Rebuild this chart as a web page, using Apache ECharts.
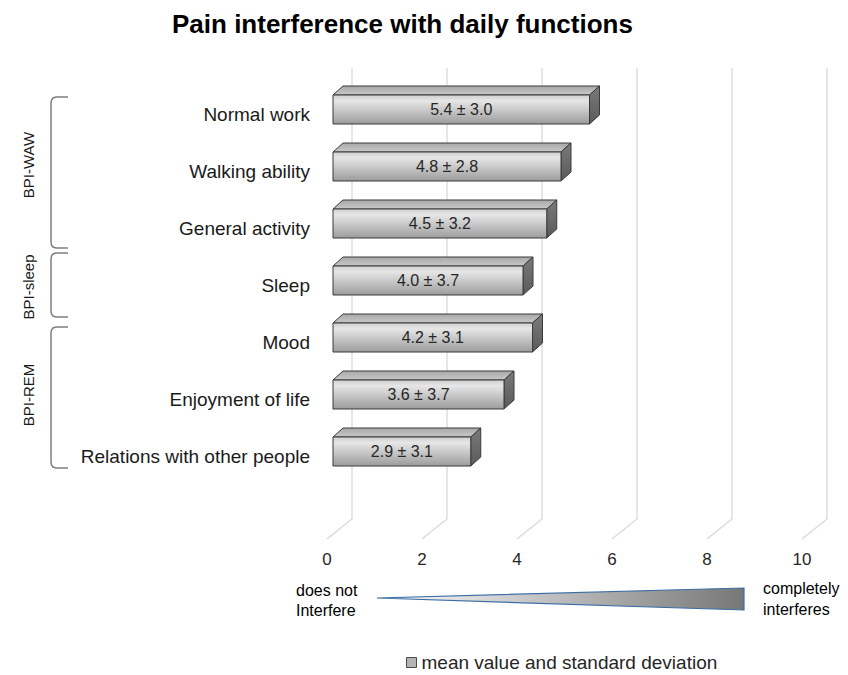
<!DOCTYPE html>
<html>
<head>
<meta charset="utf-8">
<script src="https://cdn.jsdelivr.net/npm/echarts@6/dist/echarts.min.js"></script>
<style>
    html, body { margin: 0; padding: 0; background: #fff; }
    #chart01 { width: 848px; height: 675px; }
</style>
</head>
<body>
<div id="chart01"></div>
<script>
var categories = ['Normal work', 'Walking ability', 'General activity', 'Sleep', 'Mood', 'Enjoyment of life', 'Relations with other people'];
var meanValues = [5.4, 4.8, 4.5, 4.0, 4.2, 3.6, 2.9];
var sdValues = [3.0, 2.8, 3.2, 3.7, 3.1, 3.7, 3.1];
var xTicks = [0, 2, 4, 6, 8, 10];
var groupNames = ['BPI-WAW', 'BPI-sleep', 'BPI-REM'];
var seriesName = 'mean value and standard deviation';

var fontName = '"Liberation Sans", Arial, sans-serif';
var chart01 = echarts.init(document.getElementById('chart01'), null, {renderer: 'svg'});

var barData = [];
for (var i = 0; i < categories.length; i++) {
    barData.push([meanValues[i], i, sdValues[i]]);
}
var gridData = xTicks.map(function (v) { return [v, 0]; });

// L-shaped 3d gridlines (back wall + floor)
function renderGrid(params, api) {
    var cs = params.coordSys;
    var x = api.coord([api.value(0), 0])[0];
    var bottom = cs.y + cs.height;
    return {
        type: 'polyline',
        silent: true,
        shape: {points: [[x + 19, cs.y - 13], [x + 19, bottom + 39], [x - 6, bottom + 59]]},
        style: {stroke: '#d9d9d9', lineWidth: 1.3, fill: null}
    };
}

// box shaped bars
function renderBar(params, api) {
    var v = api.value(0);
    var idx = api.value(1);
    var sd = api.value(2);
    var start = api.coord([0, idx]);
    var end = api.coord([v, idx]);
    var h = 29, dx = 10, dy = 9;
    var x0 = start[0], x1 = end[0], yc = start[1];
    var top = yc - h / 2, bot = yc + h / 2;
    var line = '#3a3a3a';
    return {
        type: 'group',
        children: [
            {
                type: 'polygon',
                shape: {points: [[x0, top], [x0 + dx, top - dy], [x1 + dx, top - dy], [x1, top]]},
                style: {
                    fill: new echarts.graphic.LinearGradient(0, 0, 0, 1, [
                        {offset: 0, color: '#a8a8a8'}, {offset: 1, color: '#c8c8c8'}
                    ]),
                    stroke: line, lineWidth: 1
                }
            },
            {
                type: 'polygon',
                shape: {points: [[x1, top], [x1 + dx, top - dy], [x1 + dx, bot - dy], [x1, bot]]},
                style: {
                    fill: new echarts.graphic.LinearGradient(0, 0, 0, 1, [
                        {offset: 0, color: '#7a7a7a'}, {offset: 1, color: '#5a5a5a'}
                    ]),
                    stroke: line, lineWidth: 1
                }
            },
            {
                type: 'rect',
                shape: {x: x0, y: top, width: x1 - x0, height: h},
                style: {
                    fill: new echarts.graphic.LinearGradient(0, 0, 0, 1, [
                        {offset: 0, color: '#cfcfcf'},
                        {offset: 0.2, color: '#e6e6e6'},
                        {offset: 1, color: '#9c9c9c'}
                    ]),
                    stroke: line, lineWidth: 1
                }
            },
            {
                type: 'text',
                style: {
                    text: v.toFixed(1) + ' ± ' + sd.toFixed(1),
                    x: (x0 + x1) / 2, y: yc,
                    align: 'center', verticalAlign: 'middle',
                    font: '16px ' + fontName, fill: '#262626'
                }
            }
        ]
    };
}

function bracket(y1, y2) {
    return {
        type: 'polyline',
        silent: true,
        shape: {
            points: [[68, y1], [56, y1], [53, y1 + 1], [51.5, y1 + 3], [51, y1 + 6],
                [51, y2 - 6], [51.5, y2 - 3], [53, y2 - 1], [56, y2], [68, y2]]
        },
        style: {stroke: '#7f7f7f', lineWidth: 1.5, fill: null}
    };
}

function groupLabel(text, yc) {
    return {
        type: 'text',
        x: 28, y: yc,
        rotation: Math.PI / 2,
        style: {text: text, align: 'center', verticalAlign: 'middle', font: '15px ' + fontName, fill: '#1a1a1a'}
    };
}

var option = {
    animation: false,
    textStyle: {fontFamily: fontName},
    title: {
        text: 'Pain interference with daily functions',
        left: 167,
        top: 6,
        textStyle: {fontSize: 26, fontWeight: 'bold', color: '#000'}
    },
    legend: {
        data: [{name: seriesName, icon: 'rect', itemStyle: {color: '#b4b4b4', borderColor: '#4a4a4a', borderWidth: 1}}],
        left: 401,
        top: 648,
        itemWidth: 10,
        itemHeight: 10,
        itemGap: 5,
        selectedMode: false,
        textStyle: {fontSize: 19, color: '#262626'}
    },
    grid: {
        left: 333,
        top: 81,
        width: 475,
        height: 399
    },
    xAxis: {
        type: 'value',
        min: 0,
        max: 10,
        interval: 2,
        axisLine: {show: false},
        axisTick: {show: false},
        splitLine: {show: false},
        axisLabel: {fontSize: 17, color: '#262626', margin: 71, padding: [0, 12, 0, 0]}
    },
    yAxis: {
        type: 'category',
        inverse: true,
        data: categories,
        axisLine: {show: false},
        axisTick: {show: false},
        axisLabel: {fontSize: 19, color: '#1a1a1a', margin: 23, verticalAlign: 'top', lineHeight: 10}
    },
    graphic: [
        bracket(97, 248),
        bracket(253, 317),
        bracket(327, 468),
        groupLabel(groupNames[0], 165),
        groupLabel(groupNames[1], 287),
        groupLabel(groupNames[2], 395),
        {
            type: 'polygon',
            silent: true,
            shape: {points: [[377, 598], [744, 588], [744, 610]]},
            style: {
                fill: new echarts.graphic.LinearGradient(0, 0, 1, 0, [
                    {offset: 0, color: '#ffffff'}, {offset: 1, color: '#777777'}
                ]),
                stroke: '#3b6ea5', lineWidth: 1.2
            }
        },
        {
            type: 'text', left: 296, top: 580,
            style: {text: 'does not\nInterfere', font: '16px ' + fontName, lineHeight: 20, fill: '#000'}
        },
        {
            type: 'text', left: 763, top: 578,
            style: {text: 'completely\ninterferes', font: '16px ' + fontName, lineHeight: 21, fill: '#000'}
        }
    ],
    series: [
        {
            type: 'custom',
            name: 'grid',
            renderItem: renderGrid,
            data: gridData,
            encode: {x: 0, y: 1},
            z: 1,
            silent: true
        },
        {
            type: 'custom',
            name: seriesName,
            renderItem: renderBar,
            data: barData,
            encode: {x: 0, y: 1},
            itemStyle: {color: '#b4b4b4'},
            z: 2
        }
    ]
};
if (option && typeof option === "object") {
    chart01.setOption(option, true);
}
</script>
</body>
</html>
